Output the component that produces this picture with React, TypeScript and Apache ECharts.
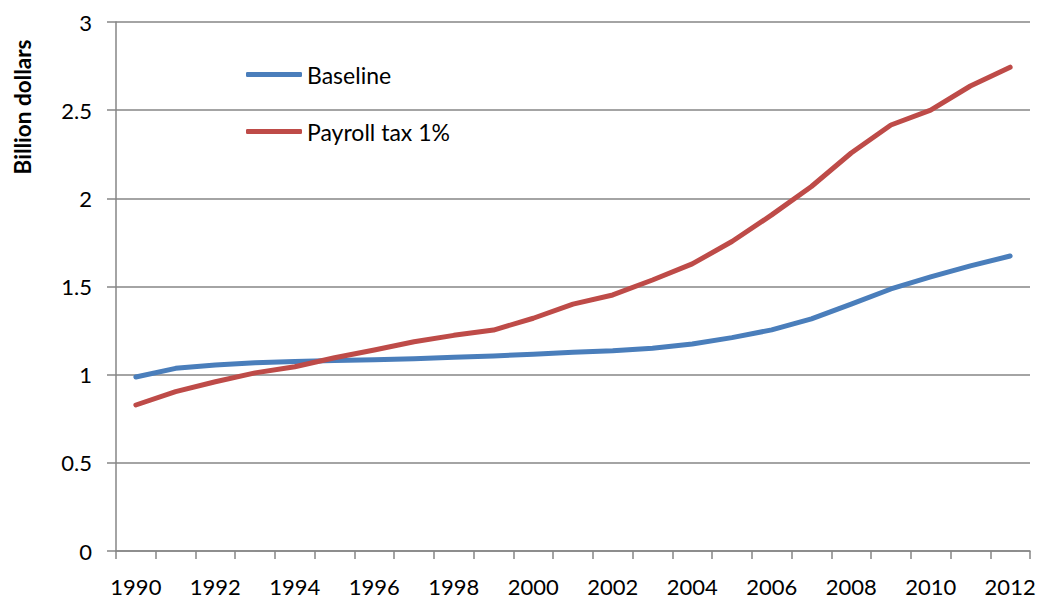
import React, { useEffect, useRef } from "react";
import * as echarts from "echarts";

const years = [
  "1990", "1991", "1992", "1993", "1994", "1995", "1996", "1997", "1998", "1999", "2000", "2001",
  "2002", "2003", "2004", "2005", "2006", "2007", "2008", "2009", "2010", "2011", "2012",
];
const baseline = [
  0.987, 1.036, 1.055, 1.068, 1.074, 1.08, 1.085, 1.09, 1.099, 1.106, 1.116, 1.127,
  1.136, 1.15, 1.174, 1.21, 1.254, 1.316, 1.4, 1.486, 1.554, 1.617, 1.673,
];
const payroll = [
  0.828, 0.904, 0.96, 1.01, 1.045, 1.096, 1.14, 1.187, 1.223, 1.253, 1.32, 1.4,
  1.452, 1.537, 1.628, 1.755, 1.906, 2.067, 2.257, 2.416, 2.5, 2.637, 2.744,
];
const seriesNames = ["Baseline", "Payroll tax 1%"];
const yAxisTitle = "Billion dollars";

const FONT = "Lato, 'Noto Sans', sans-serif";
const GRAY = "#868686";

export default function App() {
  const ref = useRef<HTMLDivElement>(null);
  useEffect(() => {
    if (!ref.current) return;
    const chart = echarts.init(ref.current, undefined, { renderer: "svg" });
    chart.setOption({
      animation: false,
      backgroundColor: "#ffffff",
      textStyle: { fontFamily: FONT },
      grid: { left: 116, right: 9, top: 22, bottom: 54, containLabel: false },
      legend: {
        orient: "vertical",
        left: 241,
        top: 58,
        itemGap: 34,
        itemWidth: 56,
        itemHeight: 5,
        icon: "roundRect",
        textStyle: { fontFamily: FONT, fontSize: 23, color: "#000" },
        data: seriesNames,
      },
      xAxis: {
        type: "category",
        data: years,
        boundaryGap: true,
        axisLine: { show: true, lineStyle: { color: GRAY, width: 1.5 } },
        axisTick: { show: true, interval: 0, length: 8, lineStyle: { color: GRAY, width: 1.5 } },
        axisLabel: { interval: 1, margin: 24, fontSize: 22, color: "#000", fontFamily: FONT },
        splitLine: { show: false },
      },
      yAxis: {
        type: "value",
        min: 0,
        max: 3,
        interval: 0.5,
        axisLine: { show: true, lineStyle: { color: GRAY, width: 1.5 } },
        axisTick: { show: true, length: 9, lineStyle: { color: GRAY, width: 1.5 } },
        axisLabel: { margin: 24, fontSize: 22, color: "#000", fontFamily: FONT },
        splitLine: { show: true, lineStyle: { color: GRAY, width: 1.5 } },
      },
      graphic: [
        {
          type: "text",
          x: 22,
          y: 107,
          rotation: Math.PI / 2,
          style: {
            text: yAxisTitle,
            fontFamily: FONT,
            fontWeight: "bold",
            fontSize: 22.5,
            fill: "#000",
            textAlign: "center",
            textVerticalAlign: "middle",
          },
        },
      ],
      series: [
        {
          name: seriesNames[0],
          type: "line",
          data: baseline,
          showSymbol: false,
          symbol: "none",
          lineStyle: { color: "#4a7ebb", width: 5, cap: "round", join: "round" },
          itemStyle: { color: "#4a7ebb" },
        },
        {
          name: seriesNames[1],
          type: "line",
          data: payroll,
          showSymbol: false,
          symbol: "none",
          lineStyle: { color: "#be4b48", width: 5, cap: "round", join: "round" },
          itemStyle: { color: "#be4b48" },
        },
      ],
    });
    return () => chart.dispose();
  }, []);
  return (
    <div
      ref={ref}
      style={{ position: "fixed", left: 0, top: 0, width: 1039, height: 605 }}
    />
  );
}
